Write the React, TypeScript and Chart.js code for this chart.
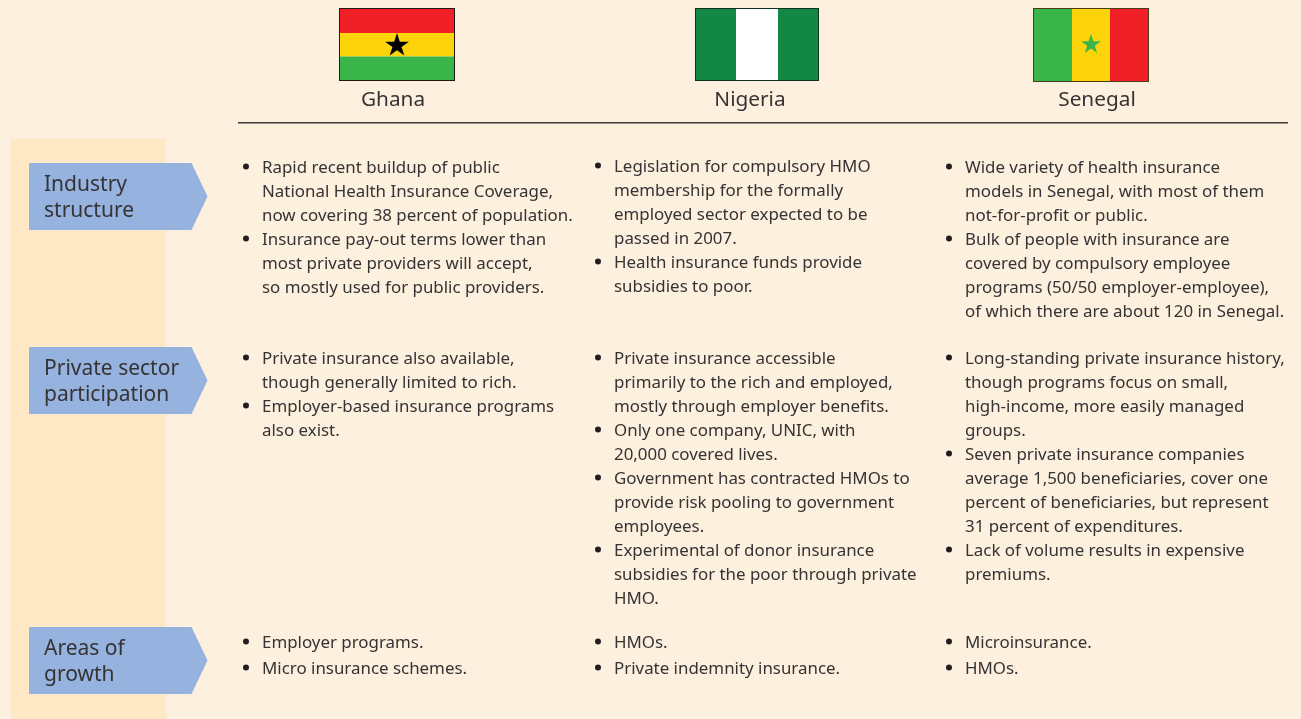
import React, { useEffect, useRef } from "react";
import { Chart, registerables } from "chart.js";

Chart.register(...registerables);

const countries = ["Ghana", "Nigeria", "Senegal"];
const rowLabels = [["Industry", "structure"], ["Private sector", "participation"], ["Areas of", "growth"]];

const ghanaIndustry = [
  ["Rapid recent buildup of public", "National Health Insurance Coverage,", "now covering 38 percent of population."],
  ["Insurance pay-out terms lower than", "most private providers will accept,", "so mostly used for public providers."],
];
const nigeriaIndustry = [
  ["Legislation for compulsory HMO", "membership for the formally", "employed sector expected to be", "passed in 2007."],
  ["Health insurance funds provide", "subsidies to poor."],
];
const senegalIndustry = [
  ["Wide variety of health insurance", "models in Senegal, with most of them", "not-for-profit or public."],
  ["Bulk of people with insurance are", "covered by compulsory employee", "programs (50/50 employer-employee),", "of which there are about 120 in Senegal."],
];
const ghanaPrivate = [
  ["Private insurance also available,", "though generally limited to rich."],
  ["Employer-based insurance programs", "also exist."],
];
const nigeriaPrivate = [
  ["Private insurance accessible", "primarily to the rich and employed,", "mostly through employer benefits."],
  ["Only one company, UNIC, with", "20,000 covered lives."],
  ["Government has contracted HMOs to", "provide risk pooling to government", "employees."],
  ["Experimental of donor insurance", "subsidies for the poor through private", "HMO."],
];
const senegalPrivate = [
  ["Long-standing private insurance history,", "though programs focus on small,", "high-income, more easily managed", "groups."],
  ["Seven private insurance companies", "average 1,500 beneficiaries, cover one", "percent of beneficiaries, but represent", "31 percent of expenditures."],
  ["Lack of volume results in expensive", "premiums."],
];
const ghanaGrowth = [["Employer programs."], ["Micro insurance schemes."]];
const nigeriaGrowth = [["HMOs."], ["Private indemnity insurance."]];
const senegalGrowth = [["Microinsurance."], ["HMOs."]];

const cellTable = [
  [ghanaIndustry, nigeriaIndustry, senegalIndustry],
  [ghanaPrivate, nigeriaPrivate, senegalPrivate],
  [ghanaGrowth, nigeriaGrowth, senegalGrowth],
];

const BG = "#fef0de";
const BAND = "#fee8c6";
const ARROW = "#95b3de";
const INK = "#353334";
const FONT = '"Noto Sans"';

const columnBullet = [246, 598, 949];
const columnText = [262, 614, 965];
const columnCenter = [393, 750, 1097];
const rowFirstBaseline = [[173, 172, 173], [364, 364, 364], [648, 648, 648]];
const rowPitch = [24, 24, 26];
const arrowTop = [163, 347, 627];

function bulletPoints() {
  const pts: { x: number; y: number }[] = [];
  cellTable.forEach((row, r) =>
    row.forEach((cell, c) => {
      let line = 0;
      cell.forEach((item) => {
        pts.push({ x: columnBullet[c], y: rowFirstBaseline[r][c] + line * rowPitch[r] - 6.5 });
        line += item.length;
      });
    })
  );
  return pts;
}

function star(ctx: CanvasRenderingContext2D, cx: number, cy: number, R: number, fill: string) {
  ctx.beginPath();
  for (let i = 0; i < 10; i++) {
    const rad = i % 2 === 0 ? R : R * 0.382;
    const a = -Math.PI / 2 + (i * Math.PI) / 5;
    const px = cx + rad * Math.cos(a);
    const py = cy + rad * Math.sin(a);
    if (i === 0) ctx.moveTo(px, py);
    else ctx.lineTo(px, py);
  }
  ctx.closePath();
  ctx.fillStyle = fill;
  ctx.fill();
}

const tablePlugin = {
  id: "tableDrawing",
  beforeDatasetsDraw(chart: any) {
    const { ctx, scales } = chart;
    const X = (v: number) => scales.x.getPixelForValue(v);
    const Y = (v: number) => scales.y.getPixelForValue(v);
    const rect = (x0: number, y0: number, x1: number, y1: number, c: string) => {
      ctx.fillStyle = c;
      ctx.fillRect(X(x0), Y(y0), X(x1) - X(x0), Y(y1) - Y(y0));
    };
    ctx.save();
    rect(0, 0, 1301, 719, BG);
    rect(11, 139, 166, 719, BAND);

    // flags
    const frame = (x0: number, y0: number, x1: number, y1: number, c: string) => {
      ctx.strokeStyle = c;
      ctx.lineWidth = 1;
      ctx.strokeRect(X(x0) + 0.5, Y(y0) + 0.5, X(x1) - X(x0) - 1, Y(y1) - Y(y0) - 1);
    };
    rect(339, 9, 454, 33, "#f12027");
    rect(339, 33, 454, 56.5, "#fdd40a");
    rect(339, 56.5, 454, 81, "#39b54a");
    frame(339, 8, 455, 81, "#1c1a10");
    star(ctx, X(397), Y(45.5), 12.5, "#000000");

    rect(695, 9, 736, 81, "#138845");
    rect(736, 9, 778, 81, "#ffffff");
    rect(778, 9, 819, 81, "#138845");
    frame(695, 8, 819, 81, "#10301f");

    rect(1033, 9, 1072, 81, "#39b54a");
    rect(1072, 9, 1110, 81, "#fdd40a");
    rect(1110, 9, 1149, 81, "#f12027");
    frame(1033, 8, 1149, 82, "#4a3a18");
    star(ctx, X(1091), Y(44.5), 10.5, "#39b54a");

    // country names
    ctx.fillStyle = INK;
    ctx.textBaseline = "alphabetic";
    ctx.textAlign = "center";
    ctx.font = `20.8px ${FONT}`;
    countries.forEach((n, i) => ctx.fillText(n, X(columnCenter[i]), Y(105.5)));

    // rule
    rect(238, 122, 1288, 123.5, "#3c3a3a");

    // arrows with row labels
    ctx.textAlign = "left";
    rowLabels.forEach((lines, r) => {
      const t = arrowTop[r];
      ctx.beginPath();
      ctx.moveTo(X(29), Y(t));
      ctx.lineTo(X(191.5), Y(t));
      ctx.lineTo(X(207.5), Y(t + 33.5));
      ctx.lineTo(X(191.5), Y(t + 67));
      ctx.lineTo(X(29), Y(t + 67));
      ctx.closePath();
      ctx.fillStyle = ARROW;
      ctx.fill();
      ctx.fillStyle = INK;
      ctx.font = `21px ${FONT}`;
      lines.forEach((l, i) => ctx.fillText(l, X(44), Y(t + 27.5 + i * 26)));
    });

    // cell text
    ctx.font = `16.9px ${FONT}`;
    ctx.fillStyle = INK;
    cellTable.forEach((row, r) =>
      row.forEach((cell, c) => {
        let line = 0;
        cell.forEach((item) =>
          item.forEach((l) => {
            ctx.fillText(l, X(columnText[c]), Y(rowFirstBaseline[r][c] + line * rowPitch[r]));
            line++;
          })
        );
      })
    );
    ctx.restore();
  },
};

export default function App() {
  const ref = useRef<HTMLCanvasElement>(null);
  useEffect(() => {
    const chart = new Chart(ref.current!, {
      type: "scatter",
      data: {
        datasets: [
          {
            data: bulletPoints(),
            pointRadius: 3,
            pointHoverRadius: 3,
            pointBorderWidth: 0,
            backgroundColor: "#231f20",
          },
        ],
      },
      options: {
        animation: false,
        responsive: false,
        events: [],
        layout: { padding: 0, autoPadding: false },
        plugins: { legend: { display: false }, tooltip: { enabled: false }, title: { display: false } },
        scales: {
          x: { type: "linear", display: false, min: 0, max: 1301 },
          y: { type: "linear", display: false, min: 0, max: 719, reverse: true },
        },
      },
      plugins: [tablePlugin],
    });
    return () => chart.destroy();
  }, []);
  return (
    <div style={{ position: "fixed", left: 0, top: 0, width: 1301, height: 719 }}>
      <canvas ref={ref} width={1301} height={719} style={{ display: "block" }} />
    </div>
  );
}
